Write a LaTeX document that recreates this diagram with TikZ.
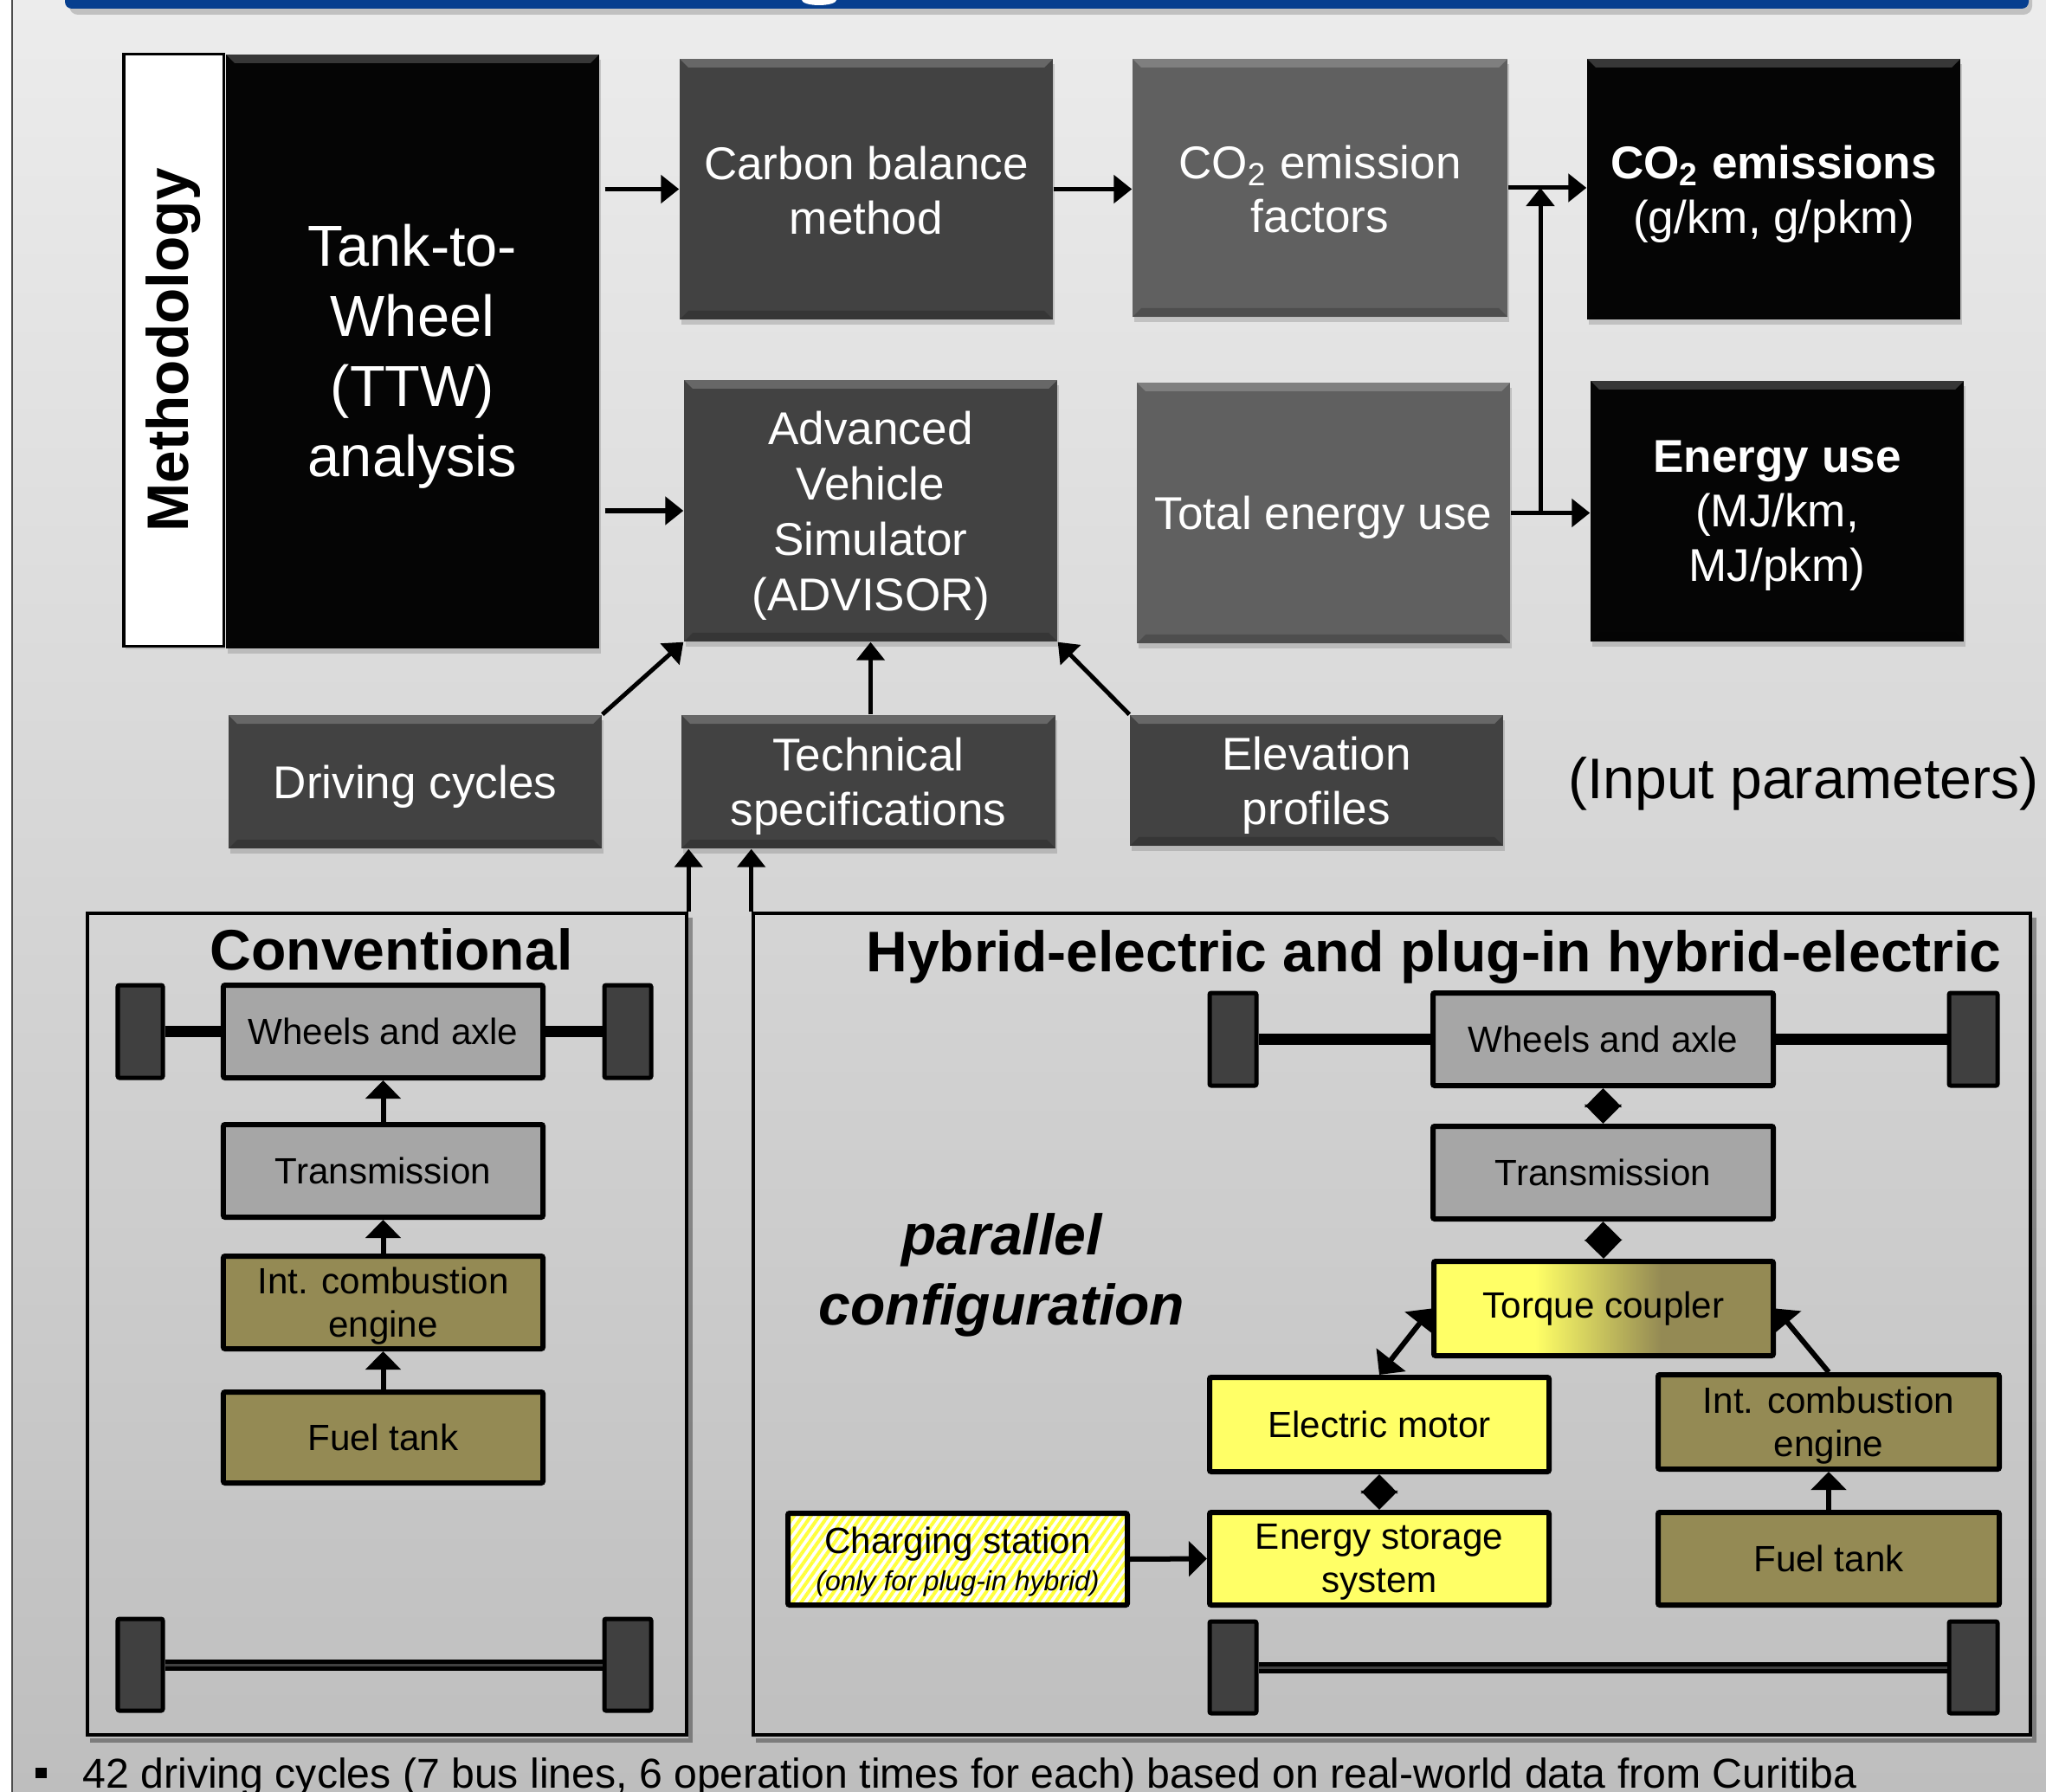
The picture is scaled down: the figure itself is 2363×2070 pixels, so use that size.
\documentclass[tikz,border=0pt]{standalone}
\usepackage{fontspec}
\setmainfont{Liberation Sans}
\usetikzlibrary{arrows.meta,shadows,patterns.meta,calc}

\definecolor{blu}{RGB}{7,63,143}
\definecolor{dk}{RGB}{66,66,66}
\definecolor{md}{RGB}{96,96,96}
\definecolor{bk}{RGB}{5,5,5}
\definecolor{lg}{RGB}{166,166,166}
\definecolor{olv}{RGB}{148,138,84}
\definecolor{yel}{RGB}{255,255,102}
\definecolor{whl}{RGB}{64,64,64}
\definecolor{bgtop}{RGB}{236,236,236}
\definecolor{bgbot}{RGB}{190,190,190}
\definecolor{hatch}{RGB}{255,255,60}

\newcommand\myfs[2]{\fontsize{#1}{#2}\selectfont}
\newcommand\mybox[7]{%
  \pgfmathsetmacro\bxcx{(#2+#4)/2}%
  \pgfmathsetmacro\bxcy{(#3+#5)/2}%
  \pgfmathsetmacro\bxw{(#4-#2)*0.01}%
  \pgfmathsetmacro\bxh{(#5-#3)*0.01}%
  \node[#6, minimum width=\bxw cm, minimum height=\bxh cm, inner sep=0pt] (#1) at (\bxcx,\bxcy) {#7};}
% box with separately placed text node
\newcommand\mytbox[8]{%
  \mybox{#1}{#2}{#3}{#4}{#5}{#6}{}%
  \node[align=center, inner sep=0pt, #7] (#1t) at (#1.center) {#8};}

\tikzset{
  topbox/.style={draw=none,
    drop shadow={shadow xshift=0.02cm, shadow yshift=-0.06cm, opacity=0.35},
    path picture={
      \fill[white,opacity=0.2] (path picture bounding box.north west) -- (path picture bounding box.north east)
        -- ([xshift=-0.1cm,yshift=-0.1cm]path picture bounding box.north east) -- ([xshift=0.1cm,yshift=-0.1cm]path picture bounding box.north west) -- cycle;
      \fill[black,opacity=0.18] (path picture bounding box.south west) -- (path picture bounding box.south east)
        -- ([xshift=-0.1cm,yshift=0.1cm]path picture bounding box.south east) -- ([xshift=0.1cm,yshift=0.1cm]path picture bounding box.south west) -- cycle;
    }},
  toptext/.style={text=white, font=\myfs{15.1}{17.9}, yshift=-0.055cm},
  comptext/.style={text=black, font=\myfs{12}{14.2}},
  arrT/.style={line width=0.05cm, -{Triangle[length=0.21cm,width=0.32cm]}},
  arrB/.style={line width=0.06cm, -{Triangle[length=0.21cm,width=0.4cm]}},
  dblarr/.style={line width=0.06cm, {Triangle[length=0.22cm,width=0.42cm]}-{Triangle[length=0.22cm,width=0.42cm]}},
  comp/.style={draw=black, line width=0.06cm, rounded corners=0.02cm},
  wheel/.style={draw=black, line width=0.05cm, rounded corners=0.02cm, fill=whl},
  frame/.style={draw=black, line width=0.045cm},
  axle/.style={line width=0.13cm, black},
}

\begin{document}
\begin{tikzpicture}[x=0.01cm,y=-0.01cm]
\useasboundingbox (0,0) rectangle (2363,2070);
\clip (0,0) rectangle (2363,2070);

% background
\shade[top color=bgtop, bottom color=bgbot] (0,0) rectangle (2363,2070);
\fill[white] (0,0) rectangle (13,2070);
\draw[line width=0.02cm, black!70] (14,0) -- (14,2070);

% top blue bar
\fill[black,opacity=0.18,rounded corners=0.1cm] (80,-30) rectangle (2347,17);
\fill[blu,rounded corners=0.08cm] (75,-30) rectangle (2343,10);
\fill[white] (946,0) ellipse [x radius=0.2cm, y radius=0.06cm];

% ---------- top section ----------
\mybox{meth}{143}{63}{258}{746}{draw=black, line width=0.03cm, fill=white, drop shadow={shadow xshift=0.02cm, shadow yshift=-0.04cm, opacity=0.3}}{}
\node[rotate=90, font=\bfseries\myfs{19.2}{22}] (methtxt) at (meth.center) {Methodology};

\mytbox{ttw}{261}{63}{692}{749}{topbox, fill=bk}{toptext, font=\myfs{19}{23}}{Tank-to-\\Wheel\\(TTW)\\analysis}
\mytbox{cb}{785}{68}{1216}{369}{topbox, fill=dk}{toptext, yshift=0.04cm}{Carbon balance\\method}
\mytbox{cef}{1308}{68}{1741}{366}{topbox, fill=md}{toptext, yshift=0.04cm}{CO\textsubscript{2} emission\\factors}
\mytbox{coe}{1833}{68}{2264}{369}{topbox, fill=bk}{toptext}{\textbf{CO\textsubscript{2} emissions}\\(g/km, g/pkm)}
\mytbox{adv}{790}{439}{1221}{741}{topbox, fill=dk}{toptext, font=\myfs{15.1}{18.2}}{Advanced\\Vehicle\\Simulator\\(ADVISOR)}
\mytbox{teu}{1313}{442}{1744}{743}{topbox, fill=md}{toptext}{Total energy use}
\mytbox{eu}{1837}{440}{2268}{741}{topbox, fill=bk}{toptext}{\textbf{Energy use}\\(MJ/km,\\MJ/pkm)}

\mytbox{dc}{264}{826}{695}{980}{topbox, fill=dk}{toptext}{Driving cycles}
\mytbox{ts}{787}{826}{1219}{980}{topbox, fill=dk}{toptext}{Technical\\specifications}
\mytbox{ep}{1305}{826}{1736}{977}{topbox, fill=dk}{toptext}{Elevation\\profiles}
\node[font=\myfs{18.8}{22}] (inp) at (2083,905) {(Input parameters)};

% top arrows
\draw[arrT, shorten <=0.06cm] (ttw.east |- cb.west) -- (cb.west);
\draw[arrT, shorten <=0.06cm] (ttw.east |- adv.west) -- (adv.west);
\draw[arrT] (cb.east) -- (cb.east -| cef.west);
\draw[arrT] (cef.east) -- (cef.east -| coe.west);
\draw[arrT] (teu.east) -- (teu.east -| eu.west);
\coordinate (jx) at (1779,0);
\draw[arrT] (teu.east -| jx) -- (cef.east -| jx);
\draw[arrT] (dc.north east) -- (adv.south west);
\draw[arrT] (ts.north -| adv.south) -- (adv.south);
\draw[arrT] (ep.north west) -- (adv.south east);

% ---------- lower frames ----------
\mybox{conv}{101}{1055}{793}{2004}{frame}{}
\mybox{hyb}{870}{1055}{2345}{2004}{frame}{}
\draw[line width=0.05cm, black, opacity=0.35] (104,2010) -- (797,2010) -- (797,1060);
\draw[line width=0.05cm, black, opacity=0.35] (873,2010) -- (2349,2010) -- (2349,1060);

\draw[arrT] (conv.north east) -- (conv.north east |- ts.south);
\draw[arrT] (hyb.north west) -- (hyb.north west |- ts.south);

\node[font=\bfseries\myfs{18.8}{22}] (convtitle) at (452,1097) {Conventional};
\node[font=\bfseries\myfs{18.8}{22}] (hybtitle) at (1656,1106) {Hybrid-electric and plug-in hybrid-electric};
\node[font=\bfseries\itshape\myfs{18.8}{23}, align=center] (par) at (1157,1473) {parallel\\configuration};

% conventional drivetrain
\mybox{cwl}{136}{1138}{188}{1245}{wheel}{}
\mybox{cwr}{698}{1138}{752}{1245}{wheel}{}
\draw[axle] (cwl.east) -- (cwr.west);
\mytbox{cw}{258}{1138}{627}{1245}{comp, fill=lg}{comptext}{Wheels and axle}
\mytbox{ct}{258}{1299}{627}{1406}{comp, fill=lg}{comptext}{Transmission}
\mytbox{cice}{258}{1451}{627}{1558}{comp, fill=olv}{comptext, yshift=-0.04cm}{Int. combustion\\engine}
\mytbox{cft}{258}{1608}{627}{1713}{comp, fill=olv}{comptext}{Fuel tank}
\draw[arrB] (ct.north) -- (cw.south);
\draw[arrB] (cice.north) -- (ct.south);
\draw[arrB] (cft.north) -- (cice.south);
\mybox{cbl}{136}{1870}{188}{1976}{wheel}{}
\mybox{cbr}{698}{1870}{752}{1976}{wheel}{}
\draw[axle] (cbl.east) -- (cbr.west);
\draw[line width=0.03cm, whl] (cbl.east) -- (cbr.west);

% hybrid drivetrain
\mybox{hwl}{1397}{1147}{1451}{1254}{wheel}{}
\mybox{hwr}{2251}{1147}{2307}{1254}{wheel}{}
\draw[axle] (hwl.east) -- (hwr.west);
\mytbox{hw}{1655}{1147}{2048}{1254}{comp, fill=lg}{comptext}{Wheels and axle}
\mytbox{ht}{1655}{1301}{2048}{1408}{comp, fill=lg}{comptext}{Transmission}
% torque coupler fill: yellow -> olive
\fill[yel] (1656,1457) rectangle (1774,1566);
\shade[left color=yel, right color=olv] (1773,1457) rectangle (1919,1566);
\fill[olv] (1918,1457) rectangle (2048,1566);
\mytbox{tc}{1656}{1457}{2048}{1566}{comp}{comptext}{Torque coupler}
\mytbox{em}{1397}{1591}{1789}{1700}{comp, fill=yel}{comptext}{Electric motor}
\mytbox{hice}{1915}{1588}{2309}{1697}{comp, fill=olv}{comptext, yshift=-0.04cm}{Int. combustion\\engine}
\mytbox{ess}{1397}{1747}{1789}{1854}{comp, fill=yel}{comptext, yshift=-0.04cm}{Energy storage\\system}
\mytbox{hft}{1915}{1747}{2309}{1854}{comp, fill=olv}{comptext}{Fuel tank}
\mytbox{cs}{910}{1748}{1302}{1854}{comp, preaction={fill=white}, pattern={Lines[angle=55,distance=0.08cm,line width=0.04cm]}, pattern color=hatch}{comptext, yshift=-0.03cm}{Charging station\\[-2pt]{\itshape\myfs{9.1}{11}(only for plug-in hybrid)}}
\mybox{hbl}{1397}{1873}{1451}{1979}{wheel}{}
\mybox{hbr}{2251}{1873}{2307}{1979}{wheel}{}
\draw[axle] (hbl.east) -- (hbr.west);
\draw[line width=0.03cm, whl] (hbl.east) -- (hbr.west);

\draw[dblarr] (hw.south) -- (ht.north);
\draw[dblarr] (ht.south) -- (tc.north);
\draw[dblarr] (em.north) -- (tc.west);
\draw[arrB] (hice.north) -- (tc.east);
\draw[arrB] (hft.north) -- (hice.south);
\draw[dblarr] (em.south) -- (ess.north);
\draw[arrB] (cs.east) -- (ess.west);

% bullet line
\fill (41,2042) rectangle (54,2054);
\node[anchor=base west, font=\myfs{13.7}{16}, inner sep=0pt] (bul) at (95,2065) {42 driving cycles (7 bus lines, 6 operation times for each) based on real-world data from Curitiba};
\end{tikzpicture}
\end{document}
